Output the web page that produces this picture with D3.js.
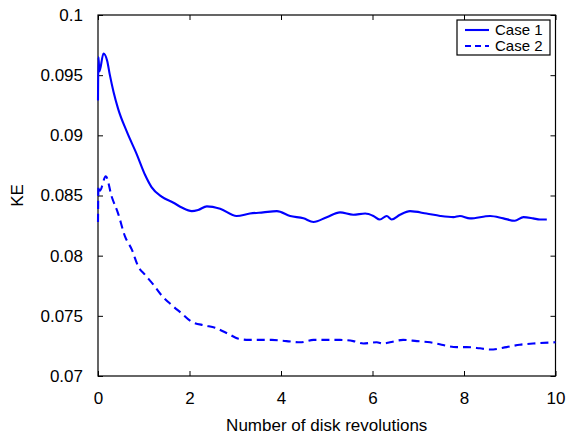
<!DOCTYPE html>
<html>
<head>
<meta charset="utf-8">
<script src="https://cdn.jsdelivr.net/npm/d3@7"></script>
<style>
  body { margin: 0; background: #fff; }
  text { font-family: "Liberation Sans", Arial, sans-serif; fill: #000; }
  .frame { fill: none; stroke: #000; stroke-width: 1.2; }
  .axis path { display: none; }
  .axis line { stroke: #000; }
  .series { fill: none; stroke: #0000ff; stroke-width: 2.1; stroke-linejoin: round; }
</style>
</head>
<body>
<div id="chart"></div>
<script>
// values
const case1X = [0, 0.01, 0.03, 0.12, 0.20, 0.26, 0.34, 0.44, 0.63, 0.85, 1.03, 1.17, 1.39, 1.65, 1.83, 2.05, 2.19, 2.38, 2.67, 3.03, 3.32, 3.61, 3.91, 4.20, 4.49, 4.71, 5.0, 5.29, 5.58, 5.84, 6.02, 6.16, 6.31, 6.42, 6.60, 6.82, 7.18, 7.48, 7.77, 7.91, 8.13, 8.57, 8.86, 9.11, 9.30, 9.51, 9.66, 9.81];
const case1Y = [0.0929, 0.0965, 0.0953, 0.0968, 0.0962, 0.0950, 0.0936, 0.0922, 0.0903, 0.0884, 0.0867, 0.0857, 0.0849, 0.0844, 0.0840, 0.0837, 0.0838, 0.0841, 0.0839, 0.0833, 0.0835, 0.0836, 0.0837, 0.0833, 0.0831, 0.0828, 0.0832, 0.0836, 0.0834, 0.0835, 0.0833, 0.0830, 0.0833, 0.0830, 0.0834, 0.0837, 0.0835, 0.0833, 0.0832, 0.0833, 0.0831, 0.0833, 0.0831, 0.0829, 0.0832, 0.0831, 0.0830, 0.0830];

const case2X = [0, 0.01, 0.04, 0.17, 0.30, 0.44, 0.59, 0.74, 0.88, 1.03, 1.21, 1.39, 1.61, 1.83, 2.05, 2.34, 2.56, 2.85, 3.07, 3.29, 3.80, 4.12, 4.42, 4.71, 5.29, 5.58, 5.80, 6.09, 6.24, 6.38, 6.67, 6.97, 7.26, 7.51, 7.84, 8.06, 8.35, 8.57, 8.93, 9.22, 9.51, 10.0];
const case2Y = [0.0828, 0.0858, 0.0854, 0.0866, 0.0849, 0.0835, 0.0816, 0.0805, 0.0791, 0.0784, 0.0776, 0.0767, 0.0759, 0.0752, 0.0745, 0.0742, 0.0740, 0.0735, 0.0731, 0.0730, 0.0730, 0.0729, 0.0728, 0.0730, 0.0730, 0.0729, 0.0727, 0.0728, 0.0727, 0.0728, 0.0730, 0.0729, 0.0728, 0.0726, 0.0724, 0.0724, 0.0723, 0.0722, 0.0724, 0.0726, 0.0727, 0.0728];

const xTicks = [0, 2, 4, 6, 8, 10];
const yTicks = [0.07, 0.075, 0.08, 0.085, 0.09, 0.095, 0.1];
const yTickLabels = ['0.07', '0.075', '0.08', '0.085', '0.09', '0.095', '0.1'];
const seriesNames = ['Case 1', 'Case 2'];

const width = 566;
const height = 437;
const margin = {top: 15, right: 10.5, bottom: 61, left: 98};
const w = width - margin.left - margin.right;
const h = height - margin.top - margin.bottom;

const x = d3.scaleLinear().domain([0, 10]).range([0, w]);
const y = d3.scaleLinear().domain([0.07, 0.1]).range([h, 0]);

const svg = d3.select('#chart')
    .append('svg')
    .attr('width', width)
    .attr('height', height);

const g = svg.append('g')
    .attr('transform', `translate(${margin.left},${margin.top})`);

// inward ticks on all four sides, like a boxed matlab axes
const fmtY = d => yTickLabels[yTicks.indexOf(d)];

g.append('g').attr('class', 'axis')
    .attr('transform', `translate(0,${h})`)
    .call(d3.axisBottom(x).tickValues(xTicks).tickSizeInner(-5).tickSizeOuter(0).tickPadding(16))
    .selectAll('text').style('font-size', '17px');

g.append('g').attr('class', 'axis')
    .call(d3.axisTop(x).tickValues(xTicks).tickSizeInner(-5).tickSizeOuter(0).tickFormat(''));

g.append('g').attr('class', 'axis')
    .call(d3.axisLeft(y).tickValues(yTicks).tickSizeInner(-5).tickSizeOuter(0).tickPadding(15).tickFormat(fmtY))
    .selectAll('text').style('font-size', '17px');

g.append('g').attr('class', 'axis')
    .attr('transform', `translate(${w},0)`)
    .call(d3.axisRight(y).tickValues(yTicks).tickSizeInner(-5).tickSizeOuter(0).tickFormat(''));

g.append('rect')
    .attr('class', 'frame')
    .attr('width', w)
    .attr('height', h);

const line = d3.line()
    .curve(d3.curveMonotoneX)
    .x(d => x(d[0]))
    .y(d => y(d[1]));

g.append('path')
    .datum(d3.zip(case1X, case1Y))
    .attr('class', 'series')
    .attr('d', line);

g.append('path')
    .datum(d3.zip(case2X, case2Y))
    .attr('class', 'series')
    .attr('stroke-dasharray', '8,5')
    .attr('d', line);

// axis titles
svg.append('text')
    .attr('x', margin.left + w / 2)
    .attr('y', 431)
    .attr('text-anchor', 'middle')
    .style('font-size', '17px')
    .text('Number of disk revolutions');

svg.append('text')
    .attr('transform', `translate(23,${margin.top + h / 2}) rotate(-90)`)
    .attr('text-anchor', 'middle')
    .style('font-size', '17px')
    .text('KE');

// legend
const legend = svg.append('g').attr('transform', 'translate(457,20)');
legend.append('rect')
    .attr('width', 93)
    .attr('height', 35)
    .attr('fill', '#fff')
    .attr('stroke', '#000')
    .attr('stroke-width', 1.2);

const items = legend.selectAll('g.item')
    .data(seriesNames)
    .enter()
    .append('g')
    .attr('class', 'item')
    .attr('transform', (d, i) => `translate(0,${10 + i * 16})`);

items.append('line')
    .attr('class', 'series')
    .attr('x1', 8)
    .attr('x2', 32)
    .attr('y1', 0)
    .attr('y2', 0)
    .attr('stroke-dasharray', (d, i) => i ? '6,4' : null);

items.append('text')
    .attr('x', 38)
    .attr('y', 5)
    .style('font-size', '15px')
    .text(d => d);
</script>
</body>
</html>
